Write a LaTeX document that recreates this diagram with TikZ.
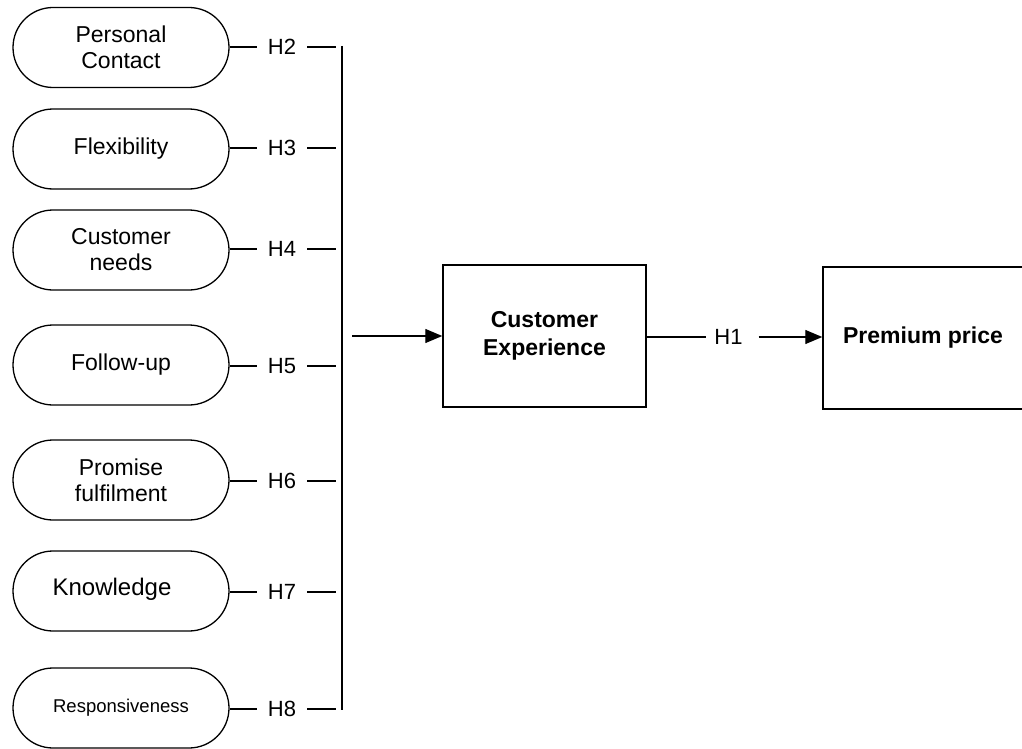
\documentclass[tikz,border=0pt]{standalone}
\usepackage{fontspec}
\setmainfont{Liberation Sans}
\usetikzlibrary{arrows.meta}
\begin{document}
\begin{tikzpicture}[x=1pt,y=-1pt,
  factor/.style={draw, line width=1.3pt, rounded corners=40pt, minimum width=216pt, minimum height=80pt, align=center, font=\fontsize{23}{26}\selectfont, inner sep=0pt},
  hlab/.style={font=\fontsize{22}{26}\selectfont, inner sep=0pt, outer xsep=11pt},
  conn/.style={line width=1.3pt},
  bigbox/.style={draw, line width=1.5pt, minimum width=203pt, minimum height=142pt, align=center, inner sep=0pt, font=\bfseries\fontsize{23}{28}\selectfont},
  arr/.style={conn, -{Triangle[length=17pt,width=14pt]}}
]
\useasboundingbox (0,0) rectangle (1022,749);

\node[factor] (pc) at (121,47.5) {Personal\\Contact};
\node[factor] (fl) at (121,149) {Flexibility};
\node[factor] (cn) at (121,250) {Customer\\needs};
\node[factor] (fu) at (121,365) {Follow-up};
\node[factor] (pf) at (121,480) {Promise\\fulfilment};
\node[factor, font=\fontsize{24}{28}\selectfont] (kn) at (121,591) {\raisebox{9pt}{Knowledge}\hspace{18pt}};
\node[factor, font=\fontsize{18.5}{21}\selectfont] (rs) at (121,708) {Responsiveness};

\foreach \n/\y/\h in {pc/47/2, fl/148/3, cn/249/4, fu/366/5, pf/481/6, kn/592/7, rs/709/8} {
  \node[hlab] (h\h) at (282,\y) {H\h};
  \coordinate (j\h) at (336,\y);
  \draw[conn] (\n.east |- h\h.west) -- (h\h.west);
  \draw[conn] (h\h.east) -- (j\h);
}

\coordinate (vt) at (342,46);
\coordinate (vb) at (342,710);
\draw[conn] (vt) -- (vb);

\node[bigbox] (ce) at (544.5,336) {Customer\\Experience};
\coordinate (ain) at (352,336);
\draw[arr] (ain) -- (ce.west);

\node[bigbox, minimum width=210pt] (pp) at (928,338) {Premium price\hspace{10pt}};

\node[hlab, outer xsep=8pt] (h1) at (728.5,337) {H1};
\draw[conn] (ce.east |- h1.west) -- (h1.west);
\draw[arr] ([xshift=8pt]h1.east) -- (pp.west |- h1.east);
\end{tikzpicture}
\end{document}
